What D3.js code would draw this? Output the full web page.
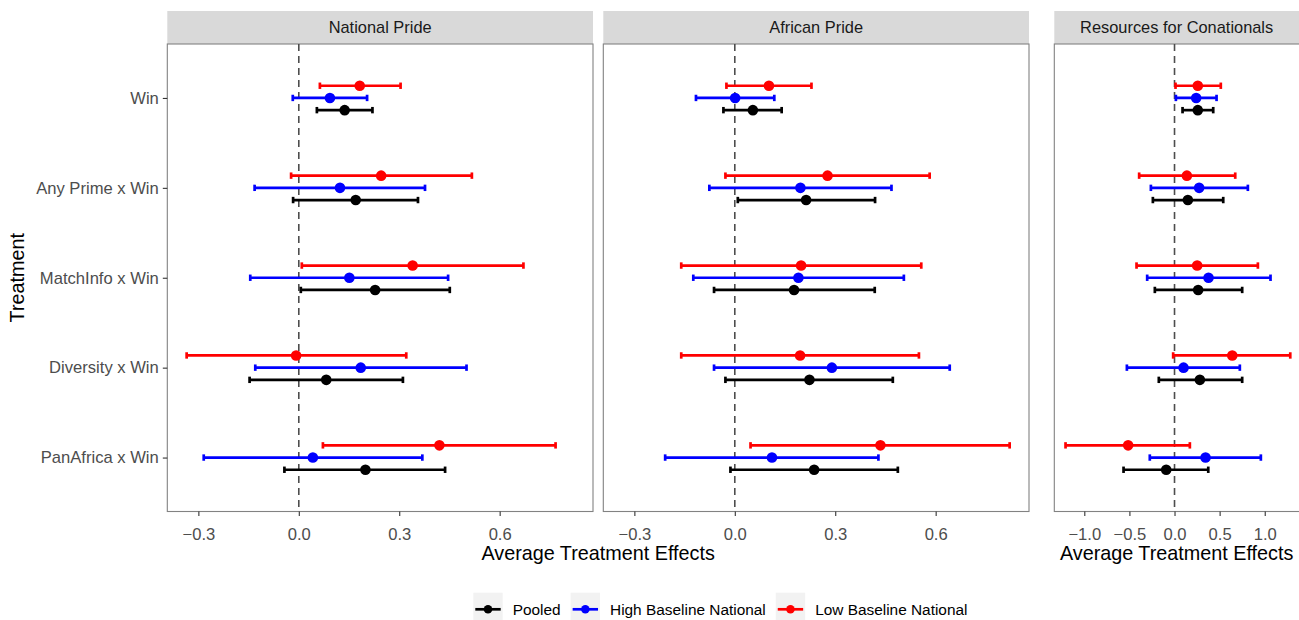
<!DOCTYPE html>
<html>
<head>
<meta charset="utf-8">
<script src="https://cdn.jsdelivr.net/npm/d3@7"></script>
<style>
  html, body { margin: 0; padding: 0; background: #fff; }
  svg { display: block; font-family: "Liberation Sans", Arial, Helvetica, sans-serif; }
</style>
</head>
<body>
<svg id="chart" width="1299" height="620"></svg>
<script>
// ---------------- DATA ----------------
const categories = ["Win", "Any Prime x Win", "MatchInfo x Win", "Diversity x Win", "PanAfrica x Win"];
const groups = ["Pooled", "High Baseline National", "Low Baseline National"];
const groupColors = ["#000000", "#0000ff", "#ff0000"];
const panelTitles = ["National Pride", "African Pride", "Resources for Conationals"];
const ticksA = [-0.3, 0.0, 0.3, 0.6];
const ticksB = [-1.0, -0.5, 0.0, 0.5, 1.0];

// each row: [low, estimate, high], in category order
const nationalPooled = [[0.054, 0.137, 0.220], [-0.017, 0.170, 0.356], [0.006, 0.228, 0.451], [-0.147, 0.082, 0.311], [-0.043, 0.199, 0.437]];
const nationalHigh   = [[-0.018, 0.093, 0.204], [-0.132, 0.123, 0.377], [-0.145, 0.151, 0.446], [-0.130, 0.185, 0.501], [-0.284, 0.042, 0.369]];
const nationalLow    = [[0.063, 0.182, 0.304], [-0.023, 0.246, 0.517], [0.009, 0.340, 0.671], [-0.335, -0.008, 0.321], [0.072, 0.420, 0.767]];

const africanPooled = [[-0.034, 0.054, 0.140], [0.009, 0.213, 0.419], [-0.062, 0.177, 0.418], [-0.028, 0.223, 0.472], [-0.013, 0.237, 0.487]];
const africanHigh   = [[-0.116, 0.001, 0.118], [-0.076, 0.196, 0.468], [-0.124, 0.190, 0.505], [-0.062, 0.290, 0.642], [-0.208, 0.111, 0.429]];
const africanLow    = [[-0.025, 0.102, 0.229], [-0.028, 0.277, 0.582], [-0.160, 0.198, 0.557], [-0.160, 0.195, 0.550], [0.047, 0.435, 0.821]];

const resourcesPooled = [[0.089, 0.258, 0.429], [-0.240, 0.148, 0.540], [-0.218, 0.262, 0.750], [-0.174, 0.281, 0.750], [-0.565, -0.092, 0.374]];
const resourcesHigh   = [[0.015, 0.240, 0.466], [-0.262, 0.273, 0.813], [-0.303, 0.377, 1.064], [-0.528, 0.100, 0.724], [-0.274, 0.344, 0.957]];
const resourcesLow    = [[0.011, 0.258, 0.513], [-0.392, 0.137, 0.673], [-0.421, 0.251, 0.924], [-0.015, 0.640, 1.283], [-1.208, -0.514, 0.170]];

const panelSeries = [
  [nationalPooled, nationalHigh, nationalLow],
  [africanPooled, africanHigh, africanLow],
  [resourcesPooled, resourcesHigh, resourcesLow]
];

// ---------------- LAYOUT ----------------
const svg = d3.select("#chart");
const panelTop = 44, panelBottom = 511.5, stripTop = 11;
const panelsX = [[167.3, 593], [603.3, 1029], [1054.3, 1301.5]];
const axisFont = 16.6, stripFont = 16.4, legendFont = 15.4, titleFont = 19.8;

function extent(sets) {
  let lo = Infinity, hi = -Infinity;
  sets.forEach(s => s.forEach(r => { lo = Math.min(lo, r[0]); hi = Math.max(hi, r[2]); }));
  const pad = (hi - lo) * 0.05;
  return [lo - pad, hi + pad];
}
const domA = extent([...panelSeries[0], ...panelSeries[1]]);
const domB = extent(panelSeries[2]);
const xScales = [
  d3.scaleLinear().domain(domA).range(panelsX[0]),
  d3.scaleLinear().domain(domA).range(panelsX[1]),
  d3.scaleLinear().domain(domB).range(panelsX[2])
];
const tickSets = [ticksA, ticksA, ticksB];

const y = d3.scalePoint().domain(categories).range([panelTop, panelBottom]).padding(0.6);
const dodge = d3.scalePoint().domain([groups[2], groups[1], groups[0]]).range([-12.2, 12.2]);

const fmt = v => (v < 0 ? "\u2212" : "") + Math.abs(v).toFixed(1);

panelSeries.forEach((series, p) => {
  const x = xScales[p];
  const [x0, x1] = panelsX[p];
  const g = svg.append("g");

  // strip
  g.append("rect").attr("x", x0).attr("y", stripTop).attr("width", x1 - x0).attr("height", panelTop - stripTop)
    .attr("fill", "#d9d9d9");
  g.append("text").attr("x", (x0 + Math.min(x1, 1299)) / 2).attr("y", 33.2)
    .attr("text-anchor", "middle").attr("font-size", stripFont).attr("fill", "#1a1a1a").text(panelTitles[p]);

  // panel border
  g.append("rect").attr("x", x0).attr("y", panelTop).attr("width", x1 - x0).attr("height", panelBottom - panelTop)
    .attr("fill", "none").attr("stroke", "#828282").attr("stroke-width", 1.1);

  // zero line
  g.append("line").attr("x1", x(0)).attr("x2", x(0)).attr("y1", panelTop).attr("y2", panelBottom)
    .attr("stroke", "#4d4d4d").attr("stroke-width", 1.6).attr("stroke-dasharray", "7,5");

  // x axis
  const xAxis = d3.axisBottom(x).tickValues(tickSets[p]).tickSize(4.5).tickPadding(12).tickFormat(fmt);
  const ax = g.append("g").attr("transform", `translate(0,${panelBottom})`).call(xAxis);
  ax.select(".domain").remove();
  ax.selectAll(".tick line").attr("stroke", "#333333").attr("stroke-width", 1.1);
  ax.selectAll(".tick text").attr("fill", "#4d4d4d").attr("font-size", axisFont)
    .attr("font-family", "'Liberation Sans', Arial, sans-serif");

  // marks
  series.forEach((rows, gi) => {
    const col = groupColors[gi];
    const off = dodge(groups[gi]);
    const mg = g.append("g");
    rows.forEach((r, ci) => {
      const yy = y(categories[ci]) + off;
      mg.append("line").attr("x1", x(r[0])).attr("x2", x(r[2])).attr("y1", yy).attr("y2", yy)
        .attr("stroke", col).attr("stroke-width", 2.7);
      [r[0], r[2]].forEach(v => {
        mg.append("line").attr("x1", x(v)).attr("x2", x(v)).attr("y1", yy - 3.2).attr("y2", yy + 3.2)
          .attr("stroke", col).attr("stroke-width", 2.7);
      });
      mg.append("circle").attr("cx", x(r[1])).attr("cy", yy).attr("r", 5.3).attr("fill", col);
    });
  });
});

// y axis on first panel
const yAxis = d3.axisLeft(y).tickSize(4.5).tickPadding(4);
const yg = svg.append("g").attr("transform", `translate(${panelsX[0][0]},0)`).call(yAxis);
yg.select(".domain").remove();
yg.selectAll(".tick line").attr("stroke", "#333333").attr("stroke-width", 1.1);
yg.selectAll(".tick text").attr("fill", "#4d4d4d").attr("font-size", axisFont)
  .attr("font-family", "'Liberation Sans', Arial, sans-serif");

// axis titles
svg.append("text").attr("x", (panelsX[0][0] + panelsX[1][1]) / 2).attr("y", 560)
  .attr("text-anchor", "middle").attr("font-size", titleFont).attr("fill", "#000").text("Average Treatment Effects");
svg.append("text").attr("x", (panelsX[2][0] + 1299) / 2).attr("y", 560)
  .attr("text-anchor", "middle").attr("font-size", titleFont).attr("fill", "#000").text("Average Treatment Effects");
svg.append("text").attr("transform", `translate(24,${(panelTop + panelBottom) / 2}) rotate(-90)`)
  .attr("text-anchor", "middle").attr("font-size", titleFont).attr("fill", "#000").text("Treatment");

// legend
const legend = svg.append("g");
let lx = 473.3;
const keyW = 29.4, keyY = 592.7, keyMid = 609.3;
groups.forEach((name, gi) => {
  legend.append("rect").attr("x", lx).attr("y", keyY).attr("width", keyW).attr("height", 2 * (keyMid - keyY)).attr("fill", "#f2f2f2");
  legend.append("line").attr("x1", lx + 2).attr("x2", lx + keyW - 2).attr("y1", keyMid).attr("y2", keyMid)
    .attr("stroke", groupColors[gi]).attr("stroke-width", 2.7);
  legend.append("circle").attr("cx", lx + keyW / 2).attr("cy", keyMid).attr("r", 4.3).attr("fill", groupColors[gi]);
  const t = legend.append("text").attr("x", lx + keyW + 10).attr("y", 614.5)
    .attr("font-size", legendFont).attr("fill", "#000").text(name);
  lx += keyW + 10 + t.node().getComputedTextLength() + 10;
});
</script>
</body>
</html>
